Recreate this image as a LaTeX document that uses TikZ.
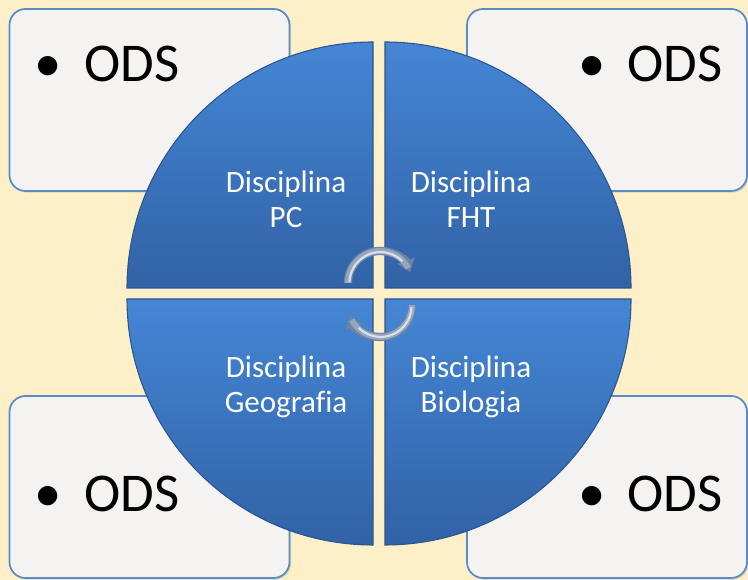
\documentclass[tikz,border=0pt]{standalone}
\usepackage{fontspec}
\setmainfont{Carlito}[Ligatures=CommonOff]
\usetikzlibrary{arrows.meta,shadows}
\definecolor{bgyellow}{HTML}{FDF0C9}
\definecolor{boxfill}{HTML}{F4F3F1}
\definecolor{boxline}{HTML}{5A8AC8}
\definecolor{qtop}{HTML}{4586D5}
\definecolor{qbot}{HTML}{3162A6}
\definecolor{qedge}{HTML}{2B568F}
\definecolor{arrdark}{HTML}{6F82A2}
\definecolor{arrmid}{HTML}{95A6BF}
\definecolor{arrlight}{HTML}{D8E0EC}
\tikzset{
  odsbox/.style={draw=boxline, line width=1.3pt, fill=boxfill, rounded corners=12pt,
    minimum width=210pt, minimum height=136.5pt, inner sep=0pt,
    drop shadow={shadow xshift=1.2pt, shadow yshift=-1.2pt, opacity=0.25}},
  odstext/.style={font=\fontsize{41}{49}\selectfont, text=black, inner sep=0pt, anchor=base west},
  quad/.style={top color=qtop, bottom color=qbot, draw=qedge, line width=0.8pt},
  qtext/.style={font=\fontsize{23.3}{26.3}\selectfont, text=white, align=center, inner sep=0pt},
  cycout/.style={line width=6.2pt, draw=arrdark, -{Triangle[width=13pt,length=9pt]}},
  cyc/.style={line width=4.4pt, draw=arrmid},
  cychi/.style={line width=1.6pt, draw=arrlight},
}
\begin{document}
\begin{tikzpicture}[x=0.75pt,y=0.75pt]
\useasboundingbox (0,0) rectangle (748,580);
\fill[bgyellow] (0,0) rectangle (748,580);
% corner boxes
\node[odsbox] (boxTL) at (149.5,480) {};
\node[odsbox] (boxTR) at (607,480) {};
\node[odsbox] (boxBL) at (149.5,93) {};
\node[odsbox] (boxBR) at (607,93) {};
\node[odstext] (odsTL) at (84,498) {\llap{\makebox[0pt][c]{•}\hspace{27pt}}ODS};
\node[odstext] (odsTR) at (627,498) {\llap{\makebox[0pt][c]{•}\hspace{26pt}}ODS};
\node[odstext] (odsBL) at (84,68) {\llap{\makebox[0pt][c]{•}\hspace{27pt}}ODS};
\node[odstext] (odsBR) at (627,68) {\llap{\makebox[0pt][c]{•}\hspace{26pt}}ODS};
% quadrants
\path[quad] (373,292) -- (127,292) arc[start angle=180, end angle=90, radius=246] -- cycle;
\path[quad] (385,292) -- (385,538) arc[start angle=90, end angle=0, radius=246] -- cycle;
\path[quad] (373,281) -- (373,35) arc[start angle=270, end angle=180, radius=246] -- cycle;
\path[quad] (385,281) -- (631,281) arc[start angle=0, end angle=-90, radius=246] -- cycle;
% labels
\node[qtext] (qPC) at (286,381) {Disciplina\\PC};
\node[qtext] (qFHT) at (471,381) {Disciplina\\FHT};
\node[qtext] (qGeo) at (286,193) {Disciplina\\Geografia};
\node[qtext] (qBio) at (471,193) {Disciplina\\Biologia};
% circular arrows
\draw[cycout] (348,297) arc[start angle=180, end angle=20, radius=32];
\draw[cyc] (348,297) arc[start angle=180, end angle=28, radius=32];
\draw[cychi] (349.5,298) arc[start angle=178, end angle=45, radius=31];
\draw[cycout] (412,275) arc[start angle=0, end angle=-160, radius=32];
\draw[cyc] (412,275) arc[start angle=0, end angle=-152, radius=32];
\draw[cychi] (411.5,273) arc[start angle=-2, end angle=-135, radius=31];
\end{tikzpicture}
\end{document}
